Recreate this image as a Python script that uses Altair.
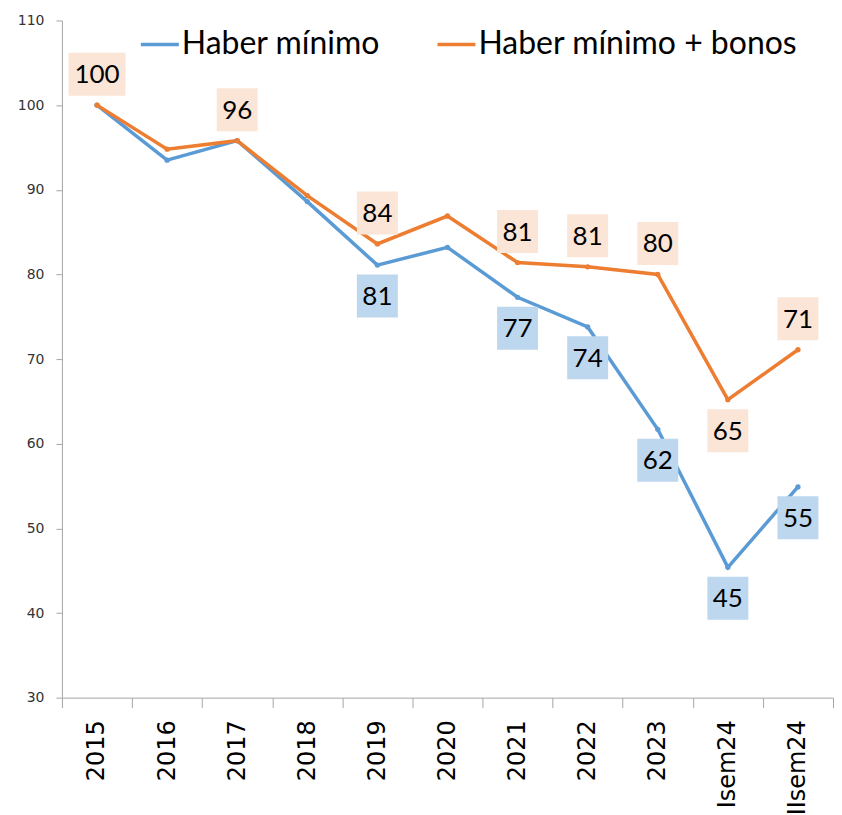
import altair as alt
import pandas as pd

categories = ["2015", "2016", "2017", "2018", "2019", "2020", "2021", "2022", "2023", "Isem24", "IIsem24"]
series_names = ["Haber mínimo", "Haber mínimo + bonos"]
haber_minimo = [100, 93.5, 95.8, 88.6, 81.1, 83.2, 77.3, 73.8, 61.7, 45.4, 54.9]
haber_bonos = [100, 94.8, 95.8, 89.3, 83.6, 86.9, 81.4, 80.9, 80.0, 65.2, 71.1]
minimo_labels = ["", "", "", "", "81", "", "77", "74", "62", "45", "55"]
bonos_labels = ["100", "", "96", "", "84", "", "81", "81", "80", "65", "71"]
minimo_side = ["", "", "", "", "below", "", "below", "below", "below", "below", "below"]
bonos_side = ["above", "", "above", "", "above", "", "above", "above", "above", "below", "above"]

line_colors = ["#5B9BD5", "#ED7D31"]
box_colors = ["#BDD7EE", "#FBE5D6"]

rows = []
for si, (vals, labs, sides) in enumerate([(haber_minimo, minimo_labels, minimo_side),
                                          (haber_bonos, bonos_labels, bonos_side)]):
    for c, v, l, s in zip(categories, vals, labs, sides):
        rows.append({"cat": c, "serie": series_names[si], "value": v,
                     "label": l, "side": s, "boxcolor": box_colors[si]})
df = pd.DataFrame(rows)

SHAPE2 = "M-1,-1.05H1V1.05H-1Z"
SHAPE3 = "M-1.39,-1.05H1.39V1.05H-1.39Z"
df["shape"] = df["label"].map(lambda t: SHAPE3 if len(t) >= 3 else SHAPE2)

x_enc = alt.X("cat:N", sort=categories,
              scale=alt.Scale(type="band", paddingInner=0, paddingOuter=0),
              axis=alt.Axis(title=None, labelAngle=-90, tickBand="extent", tickSize=10,
                            labelPadding=12, labelFont="DejaVu Sans", labelFontSize=24,
                            labelColor="#000000", domainColor="#A6A6A6", tickColor="#A6A6A6",
                            labelLimit=200))
y_enc = alt.Y("value:Q", scale=alt.Scale(domain=[30, 110], nice=False, zero=False),
              axis=alt.Axis(title=None, values=list(range(30, 111, 10)), grid=False,
                            tickSize=6, labelPadding=12, labelFont="DejaVu Sans",
                            labelFontSize=14, labelColor="#333333", domainColor="#A6A6A6",
                            tickColor="#A6A6A6", minExtent=54))

base = alt.Chart(df)

lines = base.mark_line(strokeWidth=3.5, point=alt.OverlayMarkDef(size=28, filled=True)).encode(
    x=x_enc, y=y_enc,
    color=alt.Color("serie:N", scale=alt.Scale(domain=series_names, range=line_colors),
                    legend=alt.Legend(title=None, orient="none", legendX=77, legendY=3,
                                      direction="horizontal", symbolType="stroke",
                                      symbolSize=1444, symbolStrokeWidth=3.5,
                                      labelFont="Lato", labelFontSize=32, labelColor="#000000",
                                      columnPadding=50, labelOffset=1, padding=0,
                                      labelLimit=400)),
)

layers = [lines]
for side, off in [("above", -31), ("below", 31)]:
    sub = base.transform_filter(alt.datum.side == side)
    boxes = sub.mark_point(filled=True, opacity=1, strokeWidth=0, size=1681, yOffset=off).encode(
        x=x_enc, y=y_enc,
        fill=alt.Fill("boxcolor:N", scale=None),
        shape=alt.Shape("shape:N", scale=None),
    )
    texts = sub.mark_text(font="Lato", fontSize=26, color="#000000", baseline="middle",
                          align="center", yOffset=off + 1).encode(
        x=x_enc, y=y_enc, text="label:N")
    layers += [boxes, texts]

chart = alt.layer(*layers).properties(
    width=772, height=678,
    padding={"left": 0, "top": 5, "right": 0, "bottom": 0},
).configure_view(stroke=None)

chart.save("out.html", embed_options={"renderer": "svg", "actions": False})
